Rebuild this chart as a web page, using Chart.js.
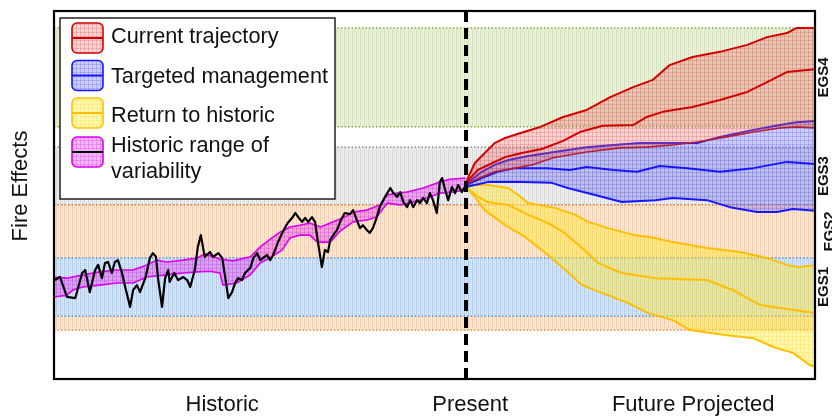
<!DOCTYPE html>
<html><head><meta charset="utf-8">
<script src="https://cdn.jsdelivr.net/npm/chart.js@4.4.1/dist/chart.umd.min.js"></script>
<style>html,body{margin:0;padding:0;background:#fff;}canvas{display:block;}</style>
</head><body>
<canvas id="c" width="832" height="417"></canvas>
<script>
// ---------------- DATA ----------------
const axisLabels = ['Historic', 'Present', 'Future Projected'];
const axisLabelTimes = [22.1, 54.7, 84.0];
const presentTime = 54.14;
const yTitle = 'Fire Effects';
const legendLabels = [['Current trajectory'], ['Targeted management'], ['Return to historic'], ['Historic range of', 'variability']];
const zoneNames = ['EGS4', 'EGS3', 'EGS2', 'EGS1'];
const zoneLabelRanges = [[68.5, 95.4], [47.3, 63.0], [32.9, 47.3], [17.1, 32.9]];
const greenZone = [68.5, 95.4];
const grayZone = [47.3, 63.0];
const orangeZone = [13.3, 47.3];
const blueZone = [17.1, 32.9];

const observed = [[0.1,26.9],[0.8,27.7],[1.7,22.3],[2.8,22.0],[3.7,28.8],[4.1,29.6],[4.7,23.6],[5.4,29.6],[5.8,31.0],[6.3,27.4],[6.7,31.5],[7.1,31.8],[7.6,28.8],[8.0,31.8],[8.4,32.3],[8.9,29.1],[9.3,25.5],[10.0,19.6],[10.4,24.2],[10.9,25.5],[11.3,23.6],[12.0,27.4],[12.6,32.9],[13.0,34.2],[13.4,33.2],[13.7,26.9],[14.2,19.6],[14.6,27.4],[15.0,29.6],[15.2,26.4],[15.8,28.8],[16.3,26.9],[17.0,27.7],[17.5,26.9],[17.9,25.0],[18.5,29.6],[18.9,35.9],[19.3,39.1],[19.8,33.2],[20.5,34.5],[20.9,33.2],[21.6,34.2],[22.1,32.9],[22.5,27.7],[22.9,22.0],[23.4,23.6],[23.8,26.1],[24.2,27.4],[24.7,26.9],[25.1,28.8],[25.8,30.2],[26.2,32.9],[26.7,34.2],[27.1,32.3],[27.5,32.9],[28.0,33.7],[28.4,32.3],[28.8,33.7],[29.4,37.0],[30.0,39.7],[30.4,41.3],[30.7,42.4],[31.3,43.8],[31.7,45.1],[32.1,44.0],[32.6,42.7],[33.0,43.8],[33.4,42.7],[33.9,44.0],[34.3,42.7],[34.7,37.0],[35.2,30.4],[35.6,35.1],[36.0,34.5],[36.3,37.8],[36.7,39.1],[37.2,40.5],[37.6,42.7],[38.2,45.1],[38.9,44.8],[39.3,45.9],[39.8,43.2],[40.2,41.0],[40.6,41.8],[41.1,40.5],[41.5,39.7],[41.9,41.0],[42.4,43.8],[42.8,46.7],[43.5,49.5],[44.2,51.9],[44.6,50.5],[45.1,49.5],[45.5,50.8],[45.9,48.1],[46.4,46.7],[46.8,48.6],[47.2,46.7],[47.7,48.6],[48.1,47.8],[48.5,49.2],[49.0,47.8],[49.4,50.5],[49.8,48.6],[50.3,45.1],[50.7,53.5],[51.0,54.6],[51.4,51.4],[51.8,48.6],[52.3,52.2],[52.7,50.5],[53.1,52.7],[53.6,50.8],[54.0,52.2]];

const rangeUpper = [[0,27.7],[1.7,27.4],[3.8,28.3],[6.0,29.1],[8.3,29.6],[10.4,29.6],[12.2,31.0],[13.5,32.3],[14.8,31.8],[17.0,32.3],[18.8,32.9],[19.8,34.0],[21.8,32.6],[23.5,32.1],[25.8,33.2],[27.1,35.9],[28.6,38.3],[29.7,39.9],[31.0,41.3],[32.3,41.8],[33.6,42.4],[35.0,41.3],[36.7,42.7],[38.2,44.0],[39.3,45.4],[41.1,45.9],[42.8,47.3],[43.8,50.0],[45.1,50.5],[46.4,50.8],[48.5,51.9],[50.7,53.5],[52.0,54.3],[54.1,54.6]];
const rangeLower = [[0,22.3],[1.7,22.8],[2.5,24.2],[3.8,25.0],[6.0,25.5],[8.3,26.1],[10.4,26.1],[12.2,27.7],[14.8,28.3],[17.0,28.8],[18.8,29.1],[20.5,29.3],[21.8,28.8],[22.2,25.5],[24.0,26.1],[25.8,28.3],[27.1,31.5],[28.6,33.2],[30.0,35.1],[31.0,38.3],[32.3,39.1],[33.6,39.1],[34.6,37.2],[36.3,37.2],[37.6,40.2],[39.3,42.7],[41.1,43.2],[42.4,44.0],[43.8,47.8],[45.5,47.3],[47.2,48.1],[49.0,49.2],[50.7,50.5],[52.4,50.8],[54.1,51.4]];

const currentUpper = [[54.1,53.3],[55.3,58.7],[56.6,61.4],[57.9,64.1],[59.3,65.5],[61.2,66.8],[63.9,68.5],[66.9,71.2],[70.0,73.1],[73.1,76.6],[76.1,79.3],[78.7,81.3],[80.9,85.3],[83.9,87.5],[87.5,88.9],[91.1,90.8],[93.7,92.9],[96.3,94.0],[97.6,95.4],[100,95.4]];
const currentMedian = [[54.1,53.3],[55.7,56.8],[57.6,58.7],[59.3,60.3],[61.5,61.4],[64.1,62.5],[66.9,64.7],[69.1,67.1],[72.1,68.8],[76.1,69.0],[77.9,71.2],[80.0,72.6],[83.9,73.9],[87.5,75.8],[91.1,78.0],[93.7,80.7],[96.3,83.4],[100,84.2]];
const currentLower = [[54.1,53.0],[56.2,54.9],[57.9,56.3],[60.6,57.3],[62.9,58.2],[65.6,60.1],[70.0,61.7],[74.4,62.8],[77.9,63.0],[81.3,63.6],[84.5,64.4],[88.4,65.8],[91.9,67.1],[95.4,68.2],[97.6,68.5],[100,68.2]];

const targetedUpper = [[54.1,53.0],[56.2,56.3],[57.9,58.2],[59.7,59.5],[62.3,60.6],[64.9,61.4],[70.0,63.0],[73.5,63.6],[77.0,64.1],[84.5,64.1],[87.5,65.8],[91.9,67.7],[95.4,69.0],[97.6,69.8],[100,70.1]];
const targetedMedian = [[54.1,52.7],[56.2,54.6],[58.3,56.3],[60.6,57.3],[64.8,57.3],[67.8,56.8],[70.0,57.6],[73.5,56.8],[76.6,56.3],[79.6,57.9],[83.2,57.3],[87.5,56.3],[91.9,57.3],[96.3,59.0],[100,58.4]];
const targetedLower = [[54.1,52.2],[57.0,53.5],[61.5,53.5],[65.4,53.3],[67.5,51.9],[71.1,50.0],[74.6,48.1],[79.0,48.6],[81.3,49.2],[85.8,48.6],[88.8,46.7],[92.4,45.4],[95.0,45.4],[97.1,46.2],[100,45.7]];

const returnUpper = [[54.1,52.7],[57.0,52.7],[59.7,51.9],[61.0,50.0],[62.3,47.8],[65.8,46.5],[68.5,44.6],[70.2,42.7],[72.8,41.0],[76.3,39.1],[79.0,38.3],[81.3,37.2],[85.8,35.6],[90.1,34.5],[93.7,32.9],[96.3,31.0],[98.0,30.4],[100,31.0]];
const returnMedian = [[54.1,52.2],[55.7,49.5],[57.0,48.1],[59.7,47.3],[62.3,44.6],[64.9,42.4],[67.1,39.7],[69.4,35.6],[71.5,31.5],[74.6,28.8],[79.0,27.4],[85.8,26.9],[89.2,24.2],[92.8,20.1],[95.4,19.3],[100,17.9]];
const returnLower = [[54.1,52.2],[55.3,49.5],[56.6,45.9],[59.3,41.8],[61.9,38.6],[64.9,33.7],[67.5,29.1],[69.4,25.5],[72.0,23.4],[75.4,20.7],[78.1,17.9],[81.3,16.0],[83.6,13.3],[87.9,12.0],[91.9,11.1],[94.5,8.7],[97.1,7.1],[99.3,3.8],[100,3.3]];

// ---------------- STYLE ----------------
const FONT = "'Liberation Sans', Arial, Helvetica, sans-serif";
function makePattern(base, mark, kind) {
  const c = document.createElement('canvas'); c.width = 4; c.height = 4;
  const g = c.getContext('2d');
  g.fillStyle = base; g.fillRect(0, 0, 4, 4);
  g.fillStyle = mark;
  if (kind === 'grid') { g.fillRect(0, 0, 4, 1); g.fillRect(0, 0, 1, 4); }
  else if (kind === 'vert') { g.fillRect(0, 0, 1, 4); g.fillRect(2, 1, 1, 1); g.fillRect(2, 3, 1, 1); }
  else { g.fillRect(0, 0, 1, 1); g.fillRect(2, 2, 1, 1); }
  return g.createPattern(c, 'repeat');
}
const pat = {
  green: makePattern('#edf2e0', '#d6e2bf', 'vert'),
  gray: makePattern('#efefef', '#d9d9d9', 'vert'),
  orange: makePattern('#fce9da', '#f5cfb1', 'vert'),
  blue: makePattern('#dbe7f5', '#b3ccec', 'vert'),
  red: makePattern('rgba(228,100,100,0.28)', 'rgba(210,60,60,0.22)', 'grid'),
  navy: makePattern('rgba(90,90,235,0.30)', 'rgba(60,60,220,0.22)', 'grid'),
  yellow: makePattern('rgba(255,232,60,0.38)', 'rgba(250,215,30,0.25)', 'grid'),
  magenta: makePattern('rgba(222,70,232,0.40)', 'rgba(200,40,215,0.25)', 'grid')
};
const colors = { red: '#d40000', redDark: '#b3203c', blue: '#1717ff', yellow: '#ffbf00', magenta: '#dd00ee' };

const pts = a => a.map(([x, y]) => ({ x, y }));
const flat = v => [{ x: 0, y: v }, { x: 100, y: v }];

const ds = [];
function zone(range, fill, line) {
  ds.push({ data: flat(range[1]), borderColor: line, borderWidth: 1.2, borderDash: [1.5, 2], fill: '+1', backgroundColor: fill });
  ds.push({ data: flat(range[0]), borderColor: line, borderWidth: 1.2, borderDash: [1.5, 2], fill: false });
}
zone(greenZone, pat.green, '#7f9a2e');
zone(grayZone, pat.gray, '#7a7a7a');
zone(orangeZone, pat.orange, '#f07b2a');
zone(blueZone, pat.blue, '#3f82d6');

function band(upper, lower, fill, col, w, lowCol, lowW) {
  ds.push({ data: pts(upper), borderColor: col, borderWidth: w, fill: '+1', backgroundColor: fill });
  ds.push({ data: pts(lower), borderColor: lowCol || col, borderWidth: lowW || w, fill: false });
}
band(returnUpper, returnLower, pat.yellow, colors.yellow, 2);
ds.push({ data: pts(returnMedian), borderColor: colors.yellow, borderWidth: 2, fill: false });
band(targetedUpper, targetedLower, pat.navy, colors.blue, 2);
ds.push({ data: pts(targetedMedian), borderColor: colors.blue, borderWidth: 2, fill: false });
band(currentUpper, currentLower, pat.red, colors.red, 2, colors.redDark, 1.6);
ds.push({ data: pts(currentMedian), borderColor: colors.red, borderWidth: 2, fill: false });
band(rangeUpper, rangeLower, pat.magenta, colors.magenta, 1.6);
ds.push({ data: pts(observed), borderColor: '#000', borderWidth: 2.2, fill: false });
ds.push({ data: [{ x: presentTime, y: 0 }, { x: presentTime, y: 100 }], borderColor: '#000', borderWidth: 4, borderDash: [11, 6], fill: false, clip: 0 });

ds.forEach((d, i) => { d.order = ds.length - i; d.pointRadius = 0; d.tension = 0; d.borderJoinStyle = 'round'; });

// ---------------- PLUGINS ----------------
function roundRect(ctx, x, y, w, h, r) {
  ctx.beginPath(); ctx.moveTo(x + r, y);
  ctx.arcTo(x + w, y, x + w, y + h, r); ctx.arcTo(x + w, y + h, x, y + h, r);
  ctx.arcTo(x, y + h, x, y, r); ctx.arcTo(x, y, x + w, y, r); ctx.closePath();
}
const legendStyle = [
  { fill: pat.red, border: colors.red, mid: colors.red },
  { fill: pat.navy, border: colors.blue, mid: colors.blue },
  { fill: pat.yellow, border: colors.yellow, mid: colors.yellow },
  { fill: pat.magenta, border: colors.magenta, mid: '#000' }
];
const decor = {
  id: 'decor',
  afterDraw(chart) {
    const { ctx, chartArea: a, scales: { y } } = chart;
    ctx.save();
    ctx.strokeStyle = '#000'; ctx.lineWidth = 2.2;
    ctx.strokeRect(a.left, a.top, a.right - a.left, a.bottom - a.top);
    ctx.fillStyle = '#111'; ctx.font = 'bold 15px ' + FONT;
    ctx.textAlign = 'center'; ctx.textBaseline = 'middle';
    zoneNames.forEach((n, i) => {
      const r = zoneLabelRanges[i];
      const py = y.getPixelForValue((r[0] + r[1]) / 2);
      const px = a.right + (n === 'EGS2' ? 15 : 9);
      ctx.save(); ctx.translate(px, py); ctx.rotate(-Math.PI / 2); ctx.fillText(n, 0, 0); ctx.restore();
    });
    ctx.font = '22px ' + FONT; ctx.fillStyle = '#111';
    ctx.save(); ctx.translate(21, 186); ctx.rotate(-Math.PI / 2); ctx.fillText(yTitle, 0, 0); ctx.restore();
    const bx = 60, by = 18, bw = 275, bh = 181;
    ctx.fillStyle = '#fff'; ctx.fillRect(bx, by, bw, bh);
    ctx.strokeStyle = '#222'; ctx.lineWidth = 1.5; ctx.strokeRect(bx, by, bw, bh);
    const swTops = [23, 60.5, 98, 137];
    const baselines = [[43], [83], [122], [152, 178]];
    ctx.textAlign = 'left'; ctx.textBaseline = 'alphabetic';
    legendLabels.forEach((lines, i) => {
      const st = legendStyle[i];
      const sx = 72, sy = swTops[i], sw = 31, sh = 30;
      roundRect(ctx, sx, sy, sw, sh, 5);
      ctx.fillStyle = st.fill; ctx.fill();
      ctx.strokeStyle = st.border; ctx.lineWidth = 1.6; ctx.stroke();
      ctx.beginPath(); ctx.moveTo(sx, sy + sh / 2); ctx.lineTo(sx + sw, sy + sh / 2);
      ctx.strokeStyle = st.mid; ctx.lineWidth = 2; ctx.stroke();
      ctx.fillStyle = '#111'; ctx.font = '21.7px ' + FONT;
      lines.forEach((t, k) => ctx.fillText(t, 111, baselines[i][k]));
    });
    ctx.restore();
  }
};

new Chart(document.getElementById('c'), {
  type: 'line',
  data: { datasets: ds },
  options: {
    responsive: false, animation: false, devicePixelRatio: 1,
    layout: { padding: { left: 54, right: 17, top: 11, bottom: 0 } },
    plugins: { legend: { display: false }, tooltip: { enabled: false } },
    scales: {
      x: {
        type: 'linear', min: 0, max: 100,
        grid: { display: false, drawTicks: false }, border: { display: false },
        afterFit: s => { s.height = 38; },
        afterBuildTicks: s => { s.ticks = axisLabelTimes.map(v => ({ value: v })); },
        ticks: {
          autoSkip: false, maxRotation: 0, minRotation: 0, padding: 15, color: '#111',
          font: { family: FONT, size: 22, lineHeight: 1 },
          callback: (v, i) => axisLabels[i]
        }
      },
      y: { type: 'linear', min: 0, max: 100, display: false }
    }
  },
  plugins: [decor]
});
</script>
</body></html>
